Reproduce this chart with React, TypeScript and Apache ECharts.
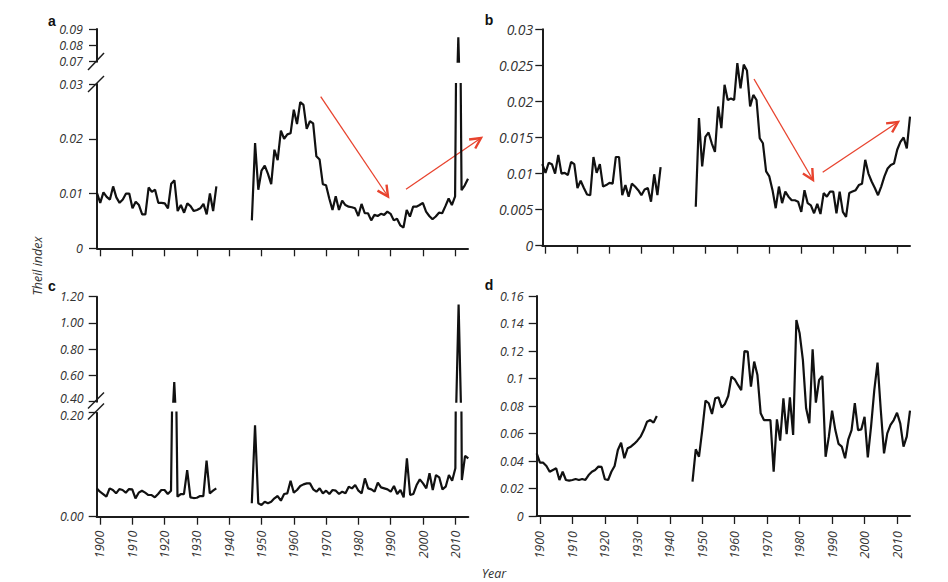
import React, { useEffect, useRef } from "react";
import * as echarts from "echarts";

// ---------- data ----------
const FIRST_YEAR = 1899;
const LAST_YEAR = 2014;
const years: string[] = [];
for (let y = FIRST_YEAR; y <= LAST_YEAR; y++) years.push(String(y));
const gap1937to1946: null[] = [null, null, null, null, null, null, null, null, null, null];

// panel a (1899-1936, 1947-2014)
const aEarly = [0.0101, 0.0083, 0.0102, 0.0094, 0.0089, 0.0113, 0.0093, 0.0083, 0.0089, 0.0100,
  0.0100, 0.0073, 0.0085, 0.0079, 0.0062, 0.0062, 0.0111, 0.0103, 0.0107, 0.0083,
  0.0083, 0.0082, 0.0073, 0.0118, 0.0124, 0.0068, 0.0079, 0.0065, 0.0082, 0.0077,
  0.0068, 0.0070, 0.0073, 0.0081, 0.0062, 0.0100, 0.0068, 0.0113];
const aLate = [0.0051, 0.0192, 0.0107, 0.0142, 0.0151, 0.0136, 0.0117, 0.0180, 0.0161, 0.0215,
  0.0200, 0.0208, 0.0210, 0.0253, 0.0227, 0.0267, 0.0262, 0.0218, 0.0232, 0.0228,
  0.0168, 0.0162, 0.0117, 0.0115, 0.0091, 0.0070, 0.0095, 0.0070, 0.0087, 0.0079,
  0.0076, 0.0075, 0.0073, 0.0059, 0.0081, 0.0064, 0.0064, 0.0051, 0.0061, 0.0059,
  0.0063, 0.0061, 0.0067, 0.0063, 0.0051, 0.0054, 0.0042, 0.0038, 0.0070, 0.0058,
  0.0076, 0.0076, 0.0079, 0.0083, 0.0067, 0.0059, 0.0053, 0.0058, 0.0065, 0.0064,
  0.0077, 0.0091, 0.0079, 0.0095, 0.085, 0.0106, 0.0115, 0.0127];

// panel b
const bEarly = [0.0113, 0.0101, 0.0115, 0.0113, 0.0100, 0.0126, 0.0100, 0.0101, 0.0098, 0.0116,
  0.0113, 0.0080, 0.0090, 0.0080, 0.0071, 0.0070, 0.0123, 0.0101, 0.0113, 0.0082,
  0.0084, 0.0087, 0.0086, 0.0123, 0.0123, 0.0070, 0.0084, 0.0068, 0.0086, 0.0082,
  0.0077, 0.0070, 0.0078, 0.0080, 0.0061, 0.0099, 0.0070, 0.0109];
const bLate = [0.0054, 0.0177, 0.0110, 0.0151, 0.0157, 0.0142, 0.0130, 0.0193, 0.0163, 0.0223,
  0.0202, 0.0204, 0.0202, 0.0253, 0.0218, 0.0251, 0.0243, 0.0193, 0.0209, 0.0202,
  0.0149, 0.0142, 0.0103, 0.0096, 0.0077, 0.0052, 0.0082, 0.0059, 0.0075, 0.0068,
  0.0063, 0.0063, 0.0061, 0.0047, 0.0077, 0.0059, 0.0056, 0.0045, 0.0058, 0.0044,
  0.0073, 0.0068, 0.0075, 0.0075, 0.0045, 0.0075, 0.0047, 0.0040, 0.0073, 0.0075,
  0.0077, 0.0084, 0.0086, 0.0119, 0.0100, 0.0089, 0.0080, 0.0070, 0.0082, 0.0096,
  0.0107, 0.0112, 0.0114, 0.0133, 0.0144, 0.0150, 0.0135, 0.0179];

// panel c
const cEarly = [0.0545, 0.0481, 0.0436, 0.0385, 0.0545, 0.0513, 0.0449, 0.0532, 0.0513, 0.0462,
  0.0532, 0.0526, 0.0353, 0.0462, 0.0500, 0.0462, 0.0417, 0.0417, 0.0372, 0.0436,
  0.0513, 0.0513, 0.0436, 0.0500, 0.55, 0.0385, 0.0436, 0.0436, 0.0897, 0.0372,
  0.0359, 0.0365, 0.0397, 0.0397, 0.1077, 0.0449, 0.0500, 0.0545];
const cLate = [0.0258, 0.176, 0.0258, 0.0225, 0.0288, 0.0258, 0.0288, 0.0353, 0.0398, 0.0308,
  0.0437, 0.0449, 0.0692, 0.0462, 0.0513, 0.0590, 0.0622, 0.0641, 0.0641, 0.0526,
  0.0481, 0.0545, 0.0449, 0.0500, 0.0437, 0.0513, 0.0500, 0.0437, 0.0481, 0.0449,
  0.0577, 0.0545, 0.0609, 0.0500, 0.0449, 0.0737, 0.0545, 0.0526, 0.0481, 0.0654,
  0.0564, 0.0545, 0.0526, 0.0481, 0.0590, 0.0437, 0.0513, 0.0372, 0.1122, 0.0417,
  0.0437, 0.0609, 0.0718, 0.0641, 0.0545, 0.0834, 0.0513, 0.0801, 0.0757, 0.0526,
  0.0577, 0.0801, 0.0692, 0.0930, 1.14, 0.0705, 0.117, 0.112];

// panel d
const dEarly = [0.0456, 0.0388, 0.0388, 0.0364, 0.0322, 0.0335, 0.0347, 0.0262, 0.0322, 0.0262,
  0.0257, 0.0262, 0.0269, 0.0262, 0.0269, 0.0262, 0.0298, 0.0322, 0.0335, 0.0359,
  0.0357, 0.0267, 0.0262, 0.0322, 0.0364, 0.0480, 0.0533, 0.0420, 0.0492, 0.0504,
  0.0524, 0.0548, 0.0577, 0.0625, 0.0686, 0.0698, 0.0679, 0.0727];
const dLate = [0.0250, 0.0485, 0.0431, 0.0625, 0.0839, 0.0820, 0.0742, 0.0856, 0.0863, 0.0790,
  0.0815, 0.0873, 0.1013, 0.0994, 0.0953, 0.0916, 0.1200, 0.1195, 0.0941, 0.1123,
  0.1025, 0.0747, 0.0698, 0.0698, 0.0698, 0.0322, 0.0703, 0.0548, 0.0856, 0.0596,
  0.0863, 0.0589, 0.1425, 0.1329, 0.1135, 0.0783, 0.0674, 0.1212, 0.0824, 0.0989,
  0.1018, 0.0431, 0.0577, 0.0766, 0.0625, 0.0524, 0.0504, 0.0420, 0.0558, 0.0625,
  0.0820, 0.0625, 0.0630, 0.0722, 0.0427, 0.0650, 0.0916, 0.1115, 0.0771, 0.0456,
  0.0601, 0.0662, 0.0698, 0.0751, 0.0674, 0.0504, 0.0577, 0.0766];

const yTitle = "Theil index";
const xTitle = "Year";
const panelLetters = ["a", "b", "c", "d"];

// ---------- styling ----------
const FONT = "'Open Sans', 'DejaVu Sans', sans-serif";
const LABEL_COLOR = "#333333";
const AXIS_COLOR = "#1c1c1c";
const LINE_COLOR = "#111111";
const RED = "#e8432e";
const FS = 12.5;

const full = (early: number[], late: number[]) => [...early, ...gap1937to1946, ...late];
const fmt = (v: number) => String(Number(v.toFixed(4)));
const isDecade = (_i: number, v: string) => Number(v) % 10 === 0;

function xAxisFor(gridIndex: number, showLabels: boolean, show = true, margin = 16) {
  return {
    type: "category",
    gridIndex,
    data: years,
    boundaryGap: false,
    show,
    axisLine: { onZero: false, lineStyle: { color: AXIS_COLOR, width: 2 } },
    axisTick: { show: true, length: 8, interval: isDecade, lineStyle: { color: AXIS_COLOR, width: 1.3 } },
    axisLabel: {
      show: showLabels, interval: isDecade, rotate: 90, margin,
      fontFamily: FONT, fontStyle: "italic", fontSize: FS, color: LABEL_COLOR,
    },
    splitLine: { show: false },
  };
}

function yAxisFor(gridIndex: number, min: number, max: number, interval: number, o: any = {}) {
  return {
    type: "value",
    gridIndex, min, max, interval,
    axisLine: { show: true, lineStyle: { color: AXIS_COLOR, width: 2 } },
    axisTick: { show: true, length: o.tick ?? 8, lineStyle: { color: AXIS_COLOR, width: 1.3 } },
    axisLabel: {
      margin: o.margin ?? 13, fontFamily: FONT, fontStyle: "italic",
      fontSize: o.fontSize ?? FS, color: LABEL_COLOR, formatter: o.formatter ?? fmt,
      lineHeight: o.lineHeight,
      verticalAlignMinLabel: o.vMin,
      verticalAlignMaxLabel: o.vMax,
    },
    splitLine: { show: false },
  };
}

function lineSeries(data: (number | null)[], idx: number) {
  return {
    type: "line", data, xAxisIndex: idx, yAxisIndex: idx,
    symbol: "none", connectNulls: false, clip: true,
    lineStyle: { color: LINE_COLOR, width: 2.2 },
    emphasis: { disabled: true },
  };
}

function arrow(x1: number, y1: number, x2: number, y2: number) {
  const ang = Math.atan2(y2 - y1, x2 - x1);
  const L = 12, spread = 0.47;
  const p1 = [x2 - L * Math.cos(ang - spread), y2 - L * Math.sin(ang - spread)];
  const p2 = [x2 - L * Math.cos(ang + spread), y2 - L * Math.sin(ang + spread)];
  return [
    { type: "line", shape: { x1, y1, x2, y2 }, style: { stroke: RED, lineWidth: 1.3 } },
    { type: "polyline", shape: { points: [p1, [x2, y2], p2] }, style: { stroke: RED, lineWidth: 2.4, fill: "transparent" } },
  ];
}

function slash(x1: number, y1: number, x2: number, y2: number) {
  return { type: "line", shape: { x1, y1, x2, y2 }, style: { stroke: AXIS_COLOR, lineWidth: 1.5 } };
}

function letter(t: string, x: number, y: number) {
  return {
    type: "text", x, y,
    style: { text: t, fontFamily: "'Liberation Sans', Arial, sans-serif", fontWeight: "bold", fontSize: 14, fill: "#111", align: "center", verticalAlign: "middle" },
  };
}

export default function App() {
  const ref = useRef<HTMLDivElement>(null);
  useEffect(() => {
    if (!ref.current) return;
    const chart = echarts.init(ref.current, undefined, { renderer: "svg" });
    const option = {
      animation: false,
      backgroundColor: "#ffffff",
      grid: [
        { left: 97, top: 29, width: 371, height: 32.7 },       // a upper
        { left: 97, top: 84, width: 371, height: 164.3 },      // a lower
        { left: 542.3, top: 29.3, width: 367.7, height: 216.4 }, // b
        { left: 96.7, top: 296.7, width: 371.6, height: 105 },  // c upper
        { left: 96.7, top: 412.7, width: 371.6, height: 104 },  // c lower
        { left: 536.7, top: 296, width: 373.3, height: 220 },   // d
      ],
      xAxis: [
        xAxisFor(0, false, false),
        xAxisFor(1, false),
        xAxisFor(2, false),
        xAxisFor(3, false, false),
        xAxisFor(4, true, true, 14),
        xAxisFor(5, true, true, 15),
      ],
      yAxis: [
        yAxisFor(0, 0.07, 0.09, 0.01, { margin: 14 }),
        yAxisFor(1, 0, 0.03, 0.01, { margin: 14 }),
        yAxisFor(2, 0, 0.03, 0.005, { fontSize: 14, margin: 9, tick: 7 }),
        yAxisFor(3, 0.4, 1.2, 0.2, { formatter: (v: number) => v.toFixed(2), lineHeight: 6, vMin: "bottom" }),
        yAxisFor(4, 0, 0.2, 0.2, { formatter: (v: number) => v.toFixed(2), lineHeight: 6, vMax: "top" }),
        yAxisFor(5, 0, 0.16, 0.02),
      ],
      series: [
        lineSeries(full(aEarly, aLate), 0),
        lineSeries(full(aEarly, aLate), 1),
        lineSeries(full(bEarly, bLate), 2),
        lineSeries(full(cEarly, cLate), 3),
        lineSeries(full(cEarly, cLate), 4),
        lineSeries(full(dEarly, dLate), 5),
      ],
      graphic: {
        elements: [
          letter(panelLetters[0], 52, 21),
          letter(panelLetters[1], 489, 20),
          letter(panelLetters[2], 52, 286),
          letter(panelLetters[3], 489, 285),
          slash(88, 70, 104, 53),
          slash(88, 92, 104, 76),
          slash(88, 408.5, 104, 392.5),
          slash(88, 419.5, 104, 403.5),
          ...arrow(320.7, 96.7, 388, 196.5),
          ...arrow(406, 189.3, 481, 138),
          ...arrow(754, 79, 813, 180),
          ...arrow(822.7, 172.3, 898, 122),
          {
            type: "text", x: 37, y: 266, rotation: Math.PI / 2,
            style: { text: yTitle, fontFamily: FONT, fontStyle: "italic", fontSize: 12.5, fill: "#333", align: "center", verticalAlign: "middle" },
          },
          {
            type: "text", x: 494, y: 573,
            style: { text: xTitle, fontFamily: FONT, fontStyle: "italic", fontSize: 12.5, fill: "#333", align: "center", verticalAlign: "middle" },
          },
        ],
      },
    };
    chart.setOption(option as any);
    return () => chart.dispose();
  }, []);
  return (
    <div
      ref={ref}
      style={{ position: "absolute", left: 0, top: 0, width: 948, height: 582, background: "#fff" }}
    />
  );
}
